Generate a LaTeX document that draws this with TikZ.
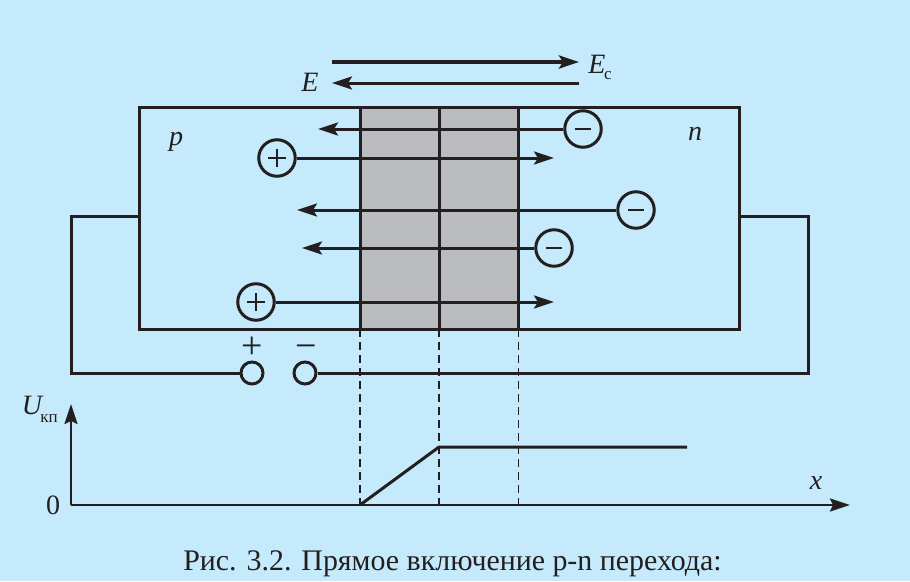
\documentclass[tikz,border=0pt]{standalone}
\usepackage{fontspec}
\setmainfont{Liberation Serif}
\usetikzlibrary{arrows.meta}
\definecolor{bgblue}{HTML}{C5EAFB}
\definecolor{ink}{HTML}{231F20}
\definecolor{zone}{HTML}{B9BBBF}
\tikzset{
  ink line/.style={draw=ink,line width=3pt},
  arrow line/.style={draw=ink,line width=3pt,-{Stealth[length=20pt,width=13pt,inset=4pt]}},
  small arrow/.style={draw=ink,line width=3pt,-{Stealth[length=20pt,width=13pt,inset=4pt]}},
  charge/.style={circle,draw=ink,line width=3pt,minimum size=36.5pt,inner sep=0pt,text=ink},
  terminal/.style={circle,draw=ink,line width=3pt,minimum size=22pt,inner sep=0pt},
  lbl/.style={text=ink,inner sep=0pt,font=\fontsize{28}{28}\selectfont\itshape},
  sgn/.style={text=ink,inner sep=0pt,font=\fontsize{38}{38}\selectfont},
  subs/.style={text=ink,inner sep=0pt,font=\fontsize{17}{17}\selectfont},
  guide/.style={draw=ink,dashed,dash pattern=on 8pt off 5pt},
}
\begin{document}
\begin{tikzpicture}[x=1pt,y=-1pt]
\useasboundingbox (0,0) rectangle (910,581);
\fill[bgblue] (0,0) rectangle (910,581);
% zones
\fill[zone] (360,107) rectangle (518,329);
% body
\coordinate (tl) at (139,107); \coordinate (br) at (739,329);
\draw[ink line] (tl) rectangle (br);
\coordinate (j1t) at (360,107); \coordinate (j1b) at (360,329);
\coordinate (j2t) at (439,107); \coordinate (j2b) at (439,329);
\coordinate (j3t) at (518,107); \coordinate (j3b) at (518,329);
\draw[ink line] (j1t)--(j1b) (j2t)--(j2b) (j3t)--(j3b);
% field arrows
\coordinate (ec0) at (332,62); \coordinate (ec1) at (579,62);
\coordinate (e0) at (579,83); \coordinate (e1) at (332,83);
\draw[draw=ink,line width=3.8pt,-{Stealth[length=20pt,width=13pt,inset=4pt]}] (ec0)--(ec1);
\draw[arrow line] (e0)--(e1);
\node[lbl,anchor=base] (lE) at (310,91) {E};
\node[lbl,anchor=base] (lEc) at (597,73) {E};
\node[subs,anchor=base] (lc) at (608,79) {с};
\node[lbl,anchor=base] (lp) at (176,145) {p};
\node[lbl,anchor=base] (ln) at (695,140) {n};
% charges
\node[charge] (m1) at (583,129) {};
\node[charge] (p1) at (277,158) {};
\node[charge] (m2) at (636,210) {};
\node[charge] (m3) at (554,248) {};
\node[charge] (p2) at (256,302) {};
\foreach \n in {m1,m2,m3}{\draw[draw=ink,line width=1.5pt] ([xshift=-8pt]\n.center)--([xshift=8pt]\n.center);}
\foreach \n in {p1,p2}{\draw[draw=ink,line width=1.5pt] ([xshift=-9pt]\n.center)--([xshift=9pt]\n.center) ([yshift=-9pt]\n.center)--([yshift=9pt]\n.center);}
\coordinate (a1) at (318,129); \coordinate (a2) at (554,158);
\coordinate (a3) at (297,210); \coordinate (a4) at (302,248); \coordinate (a5) at (554,302);
\draw[small arrow] (m1)--(a1);
\draw[small arrow] (p1)--(a2);
\draw[small arrow] (m2)--(a3);
\draw[small arrow] (m3)--(a4);
\draw[small arrow] (p2)--(a5);
% circuit
\node[terminal] (t1) at (252,373) {};
\node[terminal] (t2) at (305,373) {};
\coordinate (wl) at (139,216); \coordinate (wr) at (739,216);
\draw[ink line] (wl)--(71,216)--(71,373)--(t1);
\draw[ink line] (wr)--(808,216)--(808,373)--(t2);
\node[sgn,anchor=center] (plus) at (252,348) {+};
\node[sgn,anchor=center] (minus) at (306,352) {−};
% guides
\coordinate (d1) at (360,506); \coordinate (d2) at (439,506); \coordinate (d3) at (518,506);
\draw[guide,line width=2pt] (j1b)--(d1);
\draw[guide,line width=2pt] (j2b)--(d2);
\draw[guide,line width=1pt] (j3b)--(d3);
% graph
\coordinate (o) at (71,505);
\coordinate (ytop) at (71,404); \coordinate (xend) at (850,505);
\draw[draw=ink,line width=1.8pt,-{Stealth[length=20pt,width=13pt,inset=3pt]}] (o)--(ytop);
\draw[draw=ink,line width=2.4pt,-{Stealth[length=20pt,width=13pt,inset=3pt]}] (o)--(xend);
\coordinate (c1) at (360,505); \coordinate (c2) at (439,447); \coordinate (c3) at (687,447);
\draw[ink line,line join=round] (c1)--(c2)--(c3);
\node[lbl,anchor=base] (lU) at (32,414) {U};
\node[subs,anchor=base] (lk) at (49,422) {кп};
\node[text=ink,inner sep=0pt,anchor=base,font=\fontsize{28}{28}\selectfont] (l0) at (53,514) {0};
\node[lbl,anchor=base] (lx) at (816,489) {x};
\node[text=ink,inner sep=0pt,anchor=base,font=\fontsize{29.9}{30}\selectfont] (cap) at (452.5,570) {Рис. 3.2. Прямое включение p-n перехода:};
\end{tikzpicture}
\end{document}
